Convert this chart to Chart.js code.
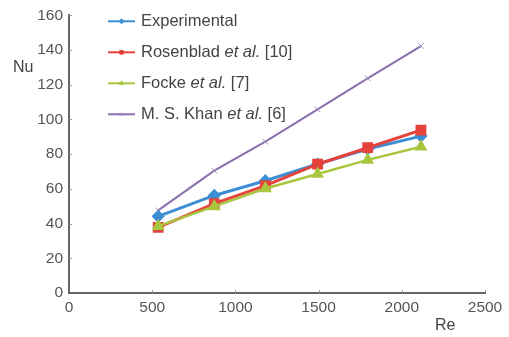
<!DOCTYPE html>
<html>
<head>
<meta charset="utf-8">
<script src="https://cdn.jsdelivr.net/npm/chart.js@4/dist/chart.umd.min.js"></script>
<style>
  html, body { margin: 0; padding: 0; background: #fff; }
  #wrap { width: 509px; height: 337px; position: relative; }
</style>
</head>
<body>
<div id="wrap"><canvas id="chart" width="509" height="337"></canvas></div>
<script>
// DATA
const reValues     = [536, 873, 1180, 1494, 1795, 2115]
const experimental = [44.2, 56.2, 64.7, 74.3, 83.0, 90.4]
const rosenblad    = [37.8, 51.5, 61.9, 74.2, 83.7, 93.8]
const focke        = [38.5, 49.9, 60.2, 68.6, 76.7, 84.3]
const khan         = [47.6, 70.5, 87.2, 105.8, 123.7, 142.3]
// _text_ = italic part
const seriesLabels = ['Experimental', 'Rosenblad _et al._ [10]', 'Focke _et al._ [7]', 'M. S. Khan _et al._ [6]']
const xTicks = [0, 500, 1000, 1500, 2000, 2500]
const yTicks = [0, 20, 40, 60, 80, 100, 120, 140, 160]

const FONT = '"Liberation Sans", Arial, Helvetica, sans-serif'
const AXIS = '#666'

const pts = (ys) => reValues.map((x, i) => ({x, y: ys[i]}))

// small inward tick marks, axis titles and the in-plot legend
const extras = {
    id: 'extras',
    afterDraw(chart) {
        const {ctx, chartArea: a, scales: {x, y}} = chart
        ctx.save()
        ctx.strokeStyle = '#999'
        ctx.lineWidth = 1
        xTicks.slice(1).forEach(v => {
            const px = Math.round(x.getPixelForValue(v)) + 0.5
            ctx.beginPath(); ctx.moveTo(px, a.bottom); ctx.lineTo(px, a.bottom - 3); ctx.stroke()
        })
        yTicks.slice(1).forEach(v => {
            const py = Math.round(y.getPixelForValue(v)) + 0.5
            ctx.beginPath(); ctx.moveTo(a.left, py); ctx.lineTo(a.left + 3, py); ctx.stroke()
        })

        ctx.fillStyle = '#444'
        ctx.font = '16px ' + FONT
        ctx.textBaseline = 'middle'
        ctx.textAlign = 'left'
        ctx.fillText('Nu', 13, 68)
        ctx.fillText('Re', 435, 326)

        // legend
        chart.data.datasets.forEach((ds, i) => {
            const ly = a.top + 6 + i * 31
            const x0 = a.left + 39, x1 = a.left + 66
            ctx.strokeStyle = ds.borderColor
            ctx.lineWidth = Math.min(ds.borderWidth, 2)
            ctx.beginPath(); ctx.moveTo(x0, ly); ctx.lineTo(x1, ly); ctx.stroke()
            if (Chart.helpers && Chart.helpers.drawPoint) {
                ctx.fillStyle = ds.pointBackgroundColor
                ctx.strokeStyle = ds.pointBorderColor
                ctx.lineWidth = 1
                Chart.helpers.drawPoint(ctx, {pointStyle: ds.pointStyle, radius: 2.5, rotation: 0, borderWidth: 1}, (x0 + x1) / 2, ly)
            }
            let tx = a.left + 72
            ctx.fillStyle = '#444'
            seriesLabels[i].split('_').forEach((part, k) => {
                ctx.font = (k % 2 ? 'italic ' : '') + '16.5px ' + FONT
                ctx.fillText(part, tx, ly)
                tx += ctx.measureText(part).width
            })
        })
        ctx.restore()
    }
}

const ctx = document.getElementById('chart').getContext('2d')
window.chart = new Chart(ctx, {
    type: 'line',
    data: {
        datasets: [
            {label: 'Experimental', data: pts(experimental), borderColor: '#3d8ed4', borderWidth: 3,
             pointStyle: 'rectRot', pointRadius: 4.5, pointBackgroundColor: '#3d8ed4', pointBorderColor: '#3d8ed4', order: 2},
            {label: 'Rosenblad', data: pts(rosenblad), borderColor: '#e5423b', borderWidth: 3,
             pointStyle: 'rect', pointRadius: 5.5, pointBackgroundColor: '#e5423b', pointBorderColor: '#e5423b', order: 1},
            {label: 'Focke', data: pts(focke), borderColor: '#a8c73e', borderWidth: 2.5,
             pointStyle: 'triangle', pointRadius: 5, pointBackgroundColor: '#a8c73e', pointBorderColor: '#a8c73e', order: 0},
            {label: 'Khan', data: pts(khan), borderColor: '#8a6fae', borderWidth: 2,
             pointStyle: 'crossRot', pointRadius: 4, pointBackgroundColor: '#9d90b4', pointBorderColor: '#9d90b4', pointBorderWidth: 1, order: 3},
        ]
    },
    options: {
        responsive: false,
        animation: false,
        devicePixelRatio: 1,
        layout: {padding: {left: 0, top: 13, right: 24, bottom: 0}},
        elements: {line: {tension: 0}},
        plugins: {legend: {display: false}, tooltip: {enabled: false}},
        scales: {
            x: {
                type: 'linear', min: 0, max: 2500,
                afterFit: s => { s.height = 44 },
                afterBuildTicks: s => { s.ticks = xTicks.map(value => ({value})) },
                grid: {display: false, drawTicks: false, tickLength: 0},
                border: {display: true, color: AXIS, width: 2},
                ticks: {color: '#555', font: {family: FONT, size: 15.5}, padding: 5, maxRotation: 0, autoSkip: false,
                        callback: v => String(v)}
            },
            y: {
                min: 0, max: 160,
                afterFit: s => { s.width = 69 },
                afterBuildTicks: s => { s.ticks = yTicks.map(value => ({value})) },
                grid: {display: false, drawTicks: false, tickLength: 0},
                border: {display: true, color: AXIS, width: 2},
                ticks: {color: '#555', font: {family: FONT, size: 15.5}, padding: 6, autoSkip: false,
                        callback: v => String(v)}
            }
        }
    },
    plugins: [extras]
})
</script>
</body>
</html>
